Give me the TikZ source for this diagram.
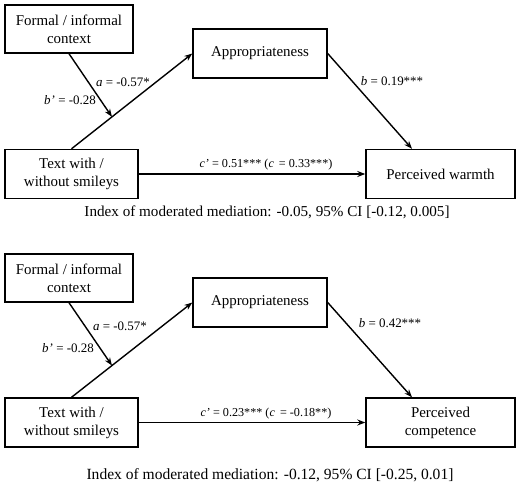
\documentclass[tikz,border=0pt]{standalone}
\usepackage{fontspec}
\setmainfont{Liberation Serif}
\usetikzlibrary{calc,arrows.meta}
\begin{document}
\begin{tikzpicture}[x=1bp,y=-1bp,
  box/.style={draw,line width=1.4bp,align=center,inner sep=0pt,font=\fontsize{15}{18}\selectfont},
  conn/.style={line width=1.4bp,-{Stealth[length=8bp,width=6bp]}},
  lab/.style={inner sep=0pt,font=\fontsize{13}{15}\selectfont},
  clab/.style={inner sep=0pt,font=\fontsize{12.2}{14}\selectfont},
  idx/.style={inner sep=0pt,font=\fontsize{15.2}{18}\selectfont}]
\useasboundingbox[fill=white] (0,0) rectangle (520,485);
% ---------- top panel ----------
\node[box,minimum width=128bp,minimum height=48bp] (f1) at (69,29) {Formal / informal\\context};
\node[box,minimum width=134bp,minimum height=49bp] (a1) at (260,53.5) {Appropriateness};
\node[box,minimum width=133bp,minimum height=49bp] (t1) at (71.5,174) {Text with /\\without smileys};
\node[box,minimum width=149bp,minimum height=49bp] (p1) at (440.5,174) {Perceived warmth};
\coordinate (m1) at ($(t1.north)!0.335!(a1.west)$);
\coordinate (q1) at ([xshift=-28.5bp]p1.north);
\draw[conn] (t1.north) -- (a1.west);
\draw[conn] (f1.south) -- (m1);
\draw[conn] (a1.east) -- (q1);
\draw[conn] (t1.east) -- (p1.west);
\node[lab] (la1) at (123,82) {\textit{a} = -0.57*};
\node[lab] (lbp1) at (70,100) {\textit{b’} = -0.28};
\node[lab] (lb1) at (392,81) {\textit{b} = 0.19***};
\node[clab] (lc1) at (266,165) {\textit{c’} = 0.51*** (\textit{c}\, = 0.33***)};
\node[idx] (ix1) at (267,212) {Index of moderated mediation: -0.05, 95\% CI [-0.12, 0.005]};
% ---------- bottom panel ----------
\node[box,minimum width=128bp,minimum height=48bp] (f2) at (69,278) {Formal / informal\\context};
\node[box,minimum width=134bp,minimum height=49bp] (a2) at (260,302.5) {Appropriateness};
\node[box,minimum width=133bp,minimum height=49bp] (t2) at (71.5,422.5) {Text with /\\without smileys};
\node[box,minimum width=149bp,minimum height=49bp] (p2) at (440.5,422.5) {Perceived\\competence};
\coordinate (m2) at ($(t2.north)!0.335!(a2.west)$);
\coordinate (q2) at ([xshift=-28.5bp]p2.north);
\draw[conn] (t2.north) -- (a2.west);
\draw[conn] (f2.south) -- (m2);
\draw[conn] (a2.east) -- (q2);
\draw[conn] (t2.east) -- (p2.west);
\node[lab] (la2) at (120,326) {\textit{a} = -0.57*};
\node[lab] (lbp2) at (68,348) {\textit{b’} = -0.28};
\node[lab] (lb2) at (390,323) {\textit{b} = 0.42***};
\node[clab] (lc2) at (266,414) {\textit{c’} = 0.23*** (\textit{c}\, = -0.18**)};
\node[idx] (ix2) at (270,475) {\fontsize{15.6}{18}\selectfont Index of moderated mediation: -0.12, 95\% CI [-0.25, 0.01]};
\end{tikzpicture}
\end{document}
